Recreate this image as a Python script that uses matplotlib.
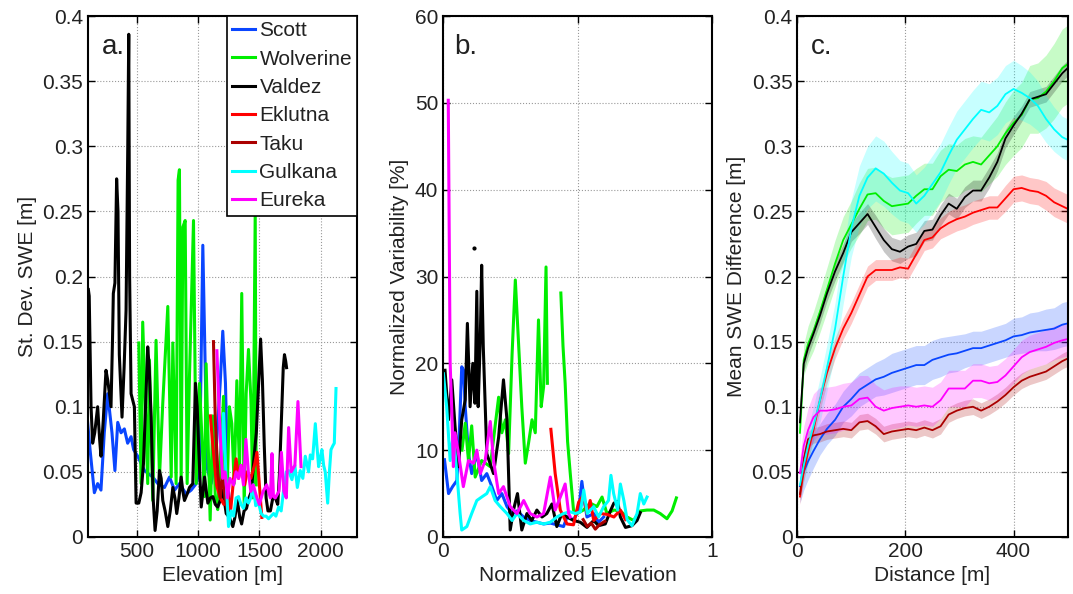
import matplotlib
matplotlib.use('Agg')
import matplotlib.pyplot as plt
import numpy as np
from matplotlib.ticker import FuncFormatter

plt.rcParams['font.family'] = ['Liberation Sans', 'DejaVu Sans']
plt.rcParams['font.size'] = 15

glaciers = ['Scott', 'Wolverine', 'Valdez', 'Eklutna', 'Taku', 'Gulkana', 'Eureka']
colors = ['#0a46ff', '#00ee00', 'black', '#ff0000', '#aa0000', '#00ffff', '#ff00ff']

# --- a. standard deviation of SWE vs elevation ---
scott_elev = [97, 117, 152, 179, 206, 233, 261, 296, 320, 343, 370, 397, 424, 452, 473, 506,
              561, 629, 670, 725, 766, 807, 847, 902, 943, 984, 1011, 1038, 1060, 1071, 1106,
              1147, 1180, 1201, 1223, 1242, 1262]
scott_sd = [0.088, 0.067, 0.034, 0.041, 0.036, 0.08, 0.11, 0.08, 0.051, 0.088, 0.08, 0.083,
            0.072, 0.077, 0.067, 0.062, 0.051, 0.046, 0.041, 0.038, 0.046, 0.036, 0.041, 0.033,
            0.036, 0.041, 0.051, 0.224, 0.118, 0.054, 0.041, 0.067, 0.118, 0.158, 0.118,
            0.041, 0.02]

wolv_elev = [515, 534, 547, 588, 602, 629, 656, 684, 711, 752, 780, 793, 820, 836, 847, 861,
             875, 894, 910, 929, 962, 984, 1011, 1052, 1065, 1098, 1120, 1140, 1160, 1180,
             1201, 1207, 1220, 1234, 1255, 1275, 1294, 1316, 1338, 1356, 1376, 1392, 1411,
             1431, 1447, 1466, 1474]
wolv_sd = [0.149, 0.041, 0.165, 0.041, 0.136, 0.028, 0.151, 0.046, 0.103, 0.177, 0.046, 0.149,
           0.041, 0.274, 0.282, 0.041, 0.238, 0.243, 0.041, 0.123, 0.243, 0.041, 0.118, 0.031,
           0.133, 0.013, 0.093, 0.03, 0.021, 0.06, 0.093, 0.108, 0.04, 0.026, 0.1, 0.087,
           0.041, 0.12, 0.05, 0.187, 0.023, 0.11, 0.144, 0.105, 0.03, 0.25, 0.04]

vald_elev = [103, 110, 125, 138, 155, 179, 195, 206, 225, 247, 262, 288, 300, 307, 320, 334,
             345, 356, 378, 395, 411, 425, 433, 440, 452, 479, 493, 515, 534, 553, 570, 588,
             600, 616, 632, 648, 665, 684, 698, 711, 730, 752, 772, 793, 810, 825, 843, 861,
             875, 888, 910, 929, 956, 978, 992, 1005, 1025, 1052, 1079, 1100, 1120, 1140, 1160,
             1180, 1201, 1229, 1255, 1283, 1300, 1320, 1340, 1355, 1375, 1395, 1415, 1435, 1455,
             1475, 1495, 1510, 1525, 1540, 1555, 1570, 1590, 1610, 1630, 1650, 1665, 1680, 1695,
             1705, 1715, 1722]
vald_sd = [0.19, 0.185, 0.1, 0.072, 0.08, 0.1, 0.075, 0.062, 0.09, 0.128, 0.12, 0.1, 0.15,
           0.187, 0.195, 0.275, 0.25, 0.14, 0.092, 0.13, 0.174, 0.3, 0.386, 0.2, 0.11, 0.1,
           0.026, 0.026, 0.034, 0.056, 0.1, 0.146, 0.13, 0.092, 0.03, 0.005, 0.02, 0.051,
           0.045, 0.028, 0.02, 0.008, 0.02, 0.038, 0.03, 0.018, 0.03, 0.046, 0.035, 0.028,
           0.033, 0.038, 0.041, 0.118, 0.1, 0.067, 0.023, 0.046, 0.026, 0.03, 0.031, 0.025,
           0.023, 0.028, 0.036, 0.018, 0.015, 0.008, 0.015, 0.028, 0.015, 0.01, 0.02, 0.022,
           0.03, 0.035, 0.06, 0.08, 0.12, 0.152, 0.12, 0.07, 0.03, 0.02, 0.02, 0.03, 0.03,
           0.025, 0.05, 0.09, 0.13, 0.14, 0.135, 0.13]

eklu_elev = [1100, 1120, 1150, 1180, 1210, 1240, 1265, 1290, 1310, 1330, 1350, 1380, 1400,
             1430, 1460, 1480, 1500, 1520]
eklu_sd = [0.093, 0.07, 0.04, 0.03, 0.025, 0.035, 0.02, 0.045, 0.06, 0.045, 0.055, 0.04, 0.05,
           0.045, 0.055, 0.065, 0.04, 0.015]

taku_elev = [1125, 1140, 1160, 1180, 1200, 1220, 1240]
taku_sd = [0.15, 0.09, 0.05, 0.03, 0.05, 0.03, 0.02]

gulk_elev = [1190, 1207, 1230, 1248, 1270, 1289, 1310, 1330, 1350, 1370, 1390, 1411, 1430,
             1450, 1470, 1493, 1515, 1534, 1555, 1575, 1595, 1616, 1635, 1657, 1678, 1698,
             1720, 1739, 1766, 1790, 1810, 1834, 1855, 1875, 1902, 1916, 1935, 1957, 1970,
             1984, 2000, 2011, 2025, 2038, 2058, 2072, 2085, 2100, 2112, 2126]
gulk_sd = [0.06, 0.095, 0.04, 0.008, 0.02, 0.016, 0.03, 0.031, 0.025, 0.022, 0.03, 0.026, 0.03,
           0.04, 0.024, 0.026, 0.018, 0.016, 0.016, 0.014, 0.016, 0.018, 0.016, 0.023, 0.02,
           0.036, 0.05, 0.051, 0.044, 0.055, 0.038, 0.051, 0.045, 0.062, 0.05, 0.063, 0.06,
           0.087, 0.07, 0.054, 0.062, 0.067, 0.055, 0.05, 0.026, 0.05, 0.067, 0.07, 0.072, 0.114]

eure_elev = [1153, 1170, 1190, 1200, 1220, 1240, 1260, 1290, 1310, 1330, 1350, 1370, 1390,
             1410, 1430, 1450, 1480, 1500, 1530, 1560, 1590, 1603, 1615, 1630, 1660, 1680,
             1700, 1720, 1739, 1760, 1790, 1815, 1840]
eure_sd = [0.143, 0.1, 0.06, 0.045, 0.05, 0.03, 0.045, 0.04, 0.05, 0.045, 0.055, 0.04, 0.075,
           0.05, 0.035, 0.04, 0.03, 0.025, 0.035, 0.04, 0.03, 0.064, 0.031, 0.03, 0.035, 0.065,
           0.035, 0.03, 0.084, 0.05, 0.055, 0.104, 0.054]

# --- b. normalized variability vs normalized elevation ---
scott_ne = [0.005, 0.02, 0.035, 0.051, 0.06, 0.069, 0.076, 0.082, 0.094, 0.106, 0.125, 0.143,
            0.162, 0.181, 0.199, 0.218, 0.237, 0.256, 0.274, 0.299, 0.323, 0.348, 0.373, 0.398,
            0.422, 0.447, 0.46, 0.484, 0.503, 0.515, 0.524, 0.534, 0.559, 0.577, 0.596]
scott_nv = [8.9, 5.0, 5.8, 6.5, 12.0, 19.6, 19.2, 15.0, 9.6, 7.3, 9.6, 6.5, 7.3, 5.8, 4.2, 5.0,
            3.5, 2.7, 3.0, 2.3, 1.9, 1.7, 1.5, 1.6, 1.4, 1.2, 2.3, 2.0, 3.0, 6.4, 4.2, 2.3, 2.7,
            1.7, 2.3]

wolv_ne = [0.07, 0.082, 0.094, 0.106, 0.119, 0.143, 0.175, 0.193, 0.206, 0.218, 0.231, 0.243,
           0.256, 0.268, 0.28, 0.292, 0.305, 0.317, 0.33, 0.342, 0.354, 0.364, 0.373, 0.382,
           0.387, np.nan, 0.437, 0.445, 0.453, 0.462, 0.472, 0.484, 0.497, 0.521, 0.546, 0.571,
           0.59, 0.608, 0.634, 0.658, 0.683, 0.707, 0.732, 0.757, 0.782, 0.806, 0.831, 0.85,
           0.866]
wolv_nv = [10.0, 13.1, 8.8, 12.8, 6.9, 8.8, 8.1, 12.8, 16.1, 12.0, 13.5, 9.6, 21.1, 29.6, 22.3,
           15.0, 8.5, 10.8, 13.5, 12.0, 25.0, 15.0, 17.3, 31.1, 17.7, np.nan, 28.1, 22.0, 17.7,
           11.0, 7.3, 3.1, 2.7, 3.1, 3.9, 3.5, 4.6, 2.7, 3.1, 3.0, 2.3, 1.9, 3.0, 3.1, 3.1,
           2.7, 2.1, 3.0, 4.5]

vald_ne = [0.007, 0.02, 0.032, 0.044, 0.057, 0.069, 0.082, 0.09, 0.1, 0.11, 0.118, 0.125, 0.13,
           0.138, 0.143, 0.149, 0.162, 0.187, 0.206, 0.224, 0.237, 0.249, 0.261, 0.276, 0.292,
           0.311, 0.329, 0.348, 0.367, 0.385, 0.404, 0.422, 0.441, 0.46, 0.484, 0.509, 0.534,
           0.559, 0.577, 0.602, 0.621, 0.634, 0.648, 0.658, 0.677, 0.701, 0.72, 0.732]
vald_nv = [19.2, 13.5, 18.1, 12.8, 8.1, 13.5, 15.8, 24.6, 15.0, 20.0, 15.4, 28.3, 15.0, 23.0,
           31.3, 21.9, 9.6, 7.3, 11.5, 18.1, 13.5, 0.8, 3.1, 5.0, 0.8, 2.7, 1.9, 3.1, 2.3, 2.7,
           3.8, 1.2, 2.7, 2.3, 1.9, 1.7, 1.1, 1.9, 1.3, 1.5, 3.0, 3.9, 4.1, 2.3, 1.1, 1.3,
           1.9, 2.8]
vald_dot_ne = [0.115]
vald_dot_nv = [33.3]

eklu_ne = [0.4, 0.416, 0.435, 0.46, 0.484, 0.503, 0.521, 0.534, 0.546, 0.559, 0.584, 0.609,
           0.634, 0.658, 0.677]
eklu_nv = [12.4, 7.3, 3.1, 1.5, 1.4, 4.0, 4.8, 2.7, 4.2, 1.9, 2.7, 2.6, 2.3, 3.1, 2.0]

taku_ne = [0.52, 0.535, 0.55, 0.565, 0.58, 0.6]
taku_nv = [2.0, 1.2, 1.6, 0.9, 1.4, 1.8]

gulk_ne = [0.001, 0.013, 0.026, 0.038, 0.051, 0.063, 0.069, 0.088, 0.106, 0.125, 0.143, 0.162,
           0.175, 0.193, 0.212, 0.237, 0.256, 0.274, 0.299, 0.323, 0.348, 0.373, 0.398, 0.422,
           0.447, 0.472, 0.491, 0.51, 0.522, 0.535, 0.559, 0.577, 0.596, 0.614, 0.623, 0.633,
           0.648, 0.658, 0.671, 0.683, 0.701, 0.72, 0.732, 0.745, 0.757]
gulk_nv = [18.8, 15.0, 8.8, 12.0, 7.3, 2.7, 0.8, 1.2, 2.7, 4.2, 4.6, 5.0, 5.8, 4.2, 3.5, 2.7,
           1.9, 2.7, 1.9, 1.5, 1.7, 1.5, 1.7, 2.3, 2.7, 2.9, 2.7, 2.9, 5.4, 2.7, 3.5, 2.3, 3.5,
           4.2, 7.1, 5.0, 3.1, 6.1, 4.2, 2.0, 1.3, 2.7, 5.0, 3.8, 4.6]

eure_ne = [0.019, 0.026, 0.032, 0.038, 0.044, 0.057, 0.075, 0.094, 0.113, 0.125, 0.138, 0.156,
           0.175, 0.187, 0.206, 0.224, 0.249, 0.274, 0.299, 0.323, 0.348, 0.373, 0.398, 0.416,
           0.435, 0.453, 0.466, 0.472]
eure_nv = [50.3, 20.0, 14.6, 8.1, 12.0, 9.6, 5.8, 8.8, 8.5, 10.0, 7.3, 8.8, 13.3, 8.8, 5.0, 5.8,
           3.5, 2.7, 4.2, 2.7, 2.3, 2.7, 6.9, 3.1, 4.6, 6.1, 2.7, 2.3]

# --- c. mean SWE difference vs distance (with spread) ---
dist = [5, 12, 20, 30, 42, 55, 70, 85, 100, 115, 130, 145, 160, 175, 190, 205, 220, 235, 250,
        265, 280, 295, 310, 325, 340, 355, 370, 385, 400, 415, 430, 445, 460, 475, 490, 500]
scott_mean = [0.039, 0.05, 0.058, 0.066, 0.075, 0.083, 0.09, 0.1, 0.106, 0.113, 0.117, 0.121,
              0.123, 0.126, 0.128, 0.13, 0.132, 0.132, 0.136, 0.138, 0.14, 0.141, 0.143, 0.145,
              0.145, 0.147, 0.149, 0.151, 0.154, 0.155, 0.157, 0.158, 0.159, 0.16, 0.163, 0.164]
scott_spr = [0.013, 0.014, 0.014, 0.013, 0.012, 0.012, 0.012, 0.012, 0.013, 0.013, 0.013, 0.013,
             0.014, 0.015, 0.015, 0.015, 0.015, 0.015, 0.015, 0.015, 0.014, 0.014, 0.013, 0.013,
             0.013, 0.013, 0.013, 0.013, 0.014, 0.014, 0.015, 0.015, 0.016, 0.016, 0.017, 0.017]
wolv_mean = [0.08, 0.136, 0.148, 0.158, 0.173, 0.19, 0.21, 0.228, 0.24, 0.252, 0.263, 0.264,
             0.258, 0.254, 0.255, 0.256, 0.262, 0.267, 0.267, 0.277, 0.282, 0.281, 0.286, 0.288,
             0.286, 0.293, 0.3, 0.31, 0.318, 0.324, 0.336, 0.337, 0.342, 0.35, 0.36, 0.363]
wolv_spr = [0.01, 0.012, 0.014, 0.015, 0.016, 0.017, 0.018, 0.018, 0.018, 0.02, 0.02, 0.02,
            0.021, 0.022, 0.022, 0.022, 0.021, 0.02, 0.02, 0.02, 0.02, 0.02, 0.02, 0.02, 0.021,
            0.022, 0.023, 0.024, 0.025, 0.025, 0.026, 0.027, 0.028, 0.029, 0.03, 0.03]
vald_mean = [0.088, 0.133, 0.145, 0.156, 0.17, 0.187, 0.204, 0.218, 0.234, 0.241, 0.248, 0.238,
             0.228, 0.221, 0.219, 0.223, 0.225, 0.235, 0.236, 0.247, 0.256, 0.252, 0.261, 0.266,
             0.266, 0.276, 0.288, 0.306, 0.316, 0.325, 0.336, 0.338, 0.34, 0.348, 0.356, 0.36]
vald_spr = [0.006, 0.006, 0.006, 0.006, 0.006, 0.006, 0.007, 0.007, 0.007, 0.008, 0.008, 0.009,
            0.009, 0.009, 0.009, 0.009, 0.009, 0.008, 0.008, 0.008, 0.008, 0.008, 0.008, 0.008,
            0.008, 0.008, 0.007, 0.007, 0.007, 0.006, 0.006, 0.006, 0.006, 0.006, 0.006, 0.006]
eklu_mean = [0.031, 0.05, 0.065, 0.082, 0.105, 0.126, 0.145, 0.16, 0.172, 0.186, 0.2, 0.205,
             0.205, 0.205, 0.207, 0.206, 0.217, 0.228, 0.23, 0.237, 0.241, 0.244, 0.246, 0.249,
             0.251, 0.253, 0.253, 0.26, 0.267, 0.268, 0.266, 0.265, 0.262, 0.257, 0.254, 0.252]
eklu_spr = [0.006, 0.007, 0.007, 0.007, 0.008, 0.008, 0.008, 0.008, 0.008, 0.008, 0.008, 0.008,
            0.008, 0.008, 0.008, 0.008, 0.008, 0.008, 0.008, 0.008, 0.009, 0.009, 0.009, 0.009,
            0.009, 0.009, 0.009, 0.01, 0.01, 0.01, 0.01, 0.01, 0.011, 0.011, 0.011, 0.011]
taku_mean = [0.033, 0.06, 0.075, 0.078, 0.079, 0.081, 0.082, 0.083, 0.082, 0.088, 0.089, 0.085,
             0.079, 0.081, 0.082, 0.083, 0.082, 0.084, 0.082, 0.085, 0.094, 0.097, 0.099, 0.1,
             0.097, 0.1, 0.104, 0.109, 0.115, 0.12, 0.123, 0.125, 0.127, 0.131, 0.135, 0.137]
taku_spr = [0.005, 0.006, 0.006, 0.006, 0.006, 0.006, 0.006, 0.006, 0.006, 0.006, 0.006, 0.006,
            0.006, 0.006, 0.006, 0.006, 0.006, 0.006, 0.006, 0.006, 0.006, 0.006, 0.006, 0.006,
            0.006, 0.006, 0.006, 0.006, 0.006, 0.006, 0.006, 0.006, 0.006, 0.006, 0.006, 0.006]
gulk_mean = [0.04, 0.055, 0.07, 0.085, 0.105, 0.13, 0.16, 0.2, 0.237, 0.262, 0.276, 0.283, 0.279,
             0.272, 0.266, 0.264, 0.256, 0.262, 0.271, 0.28, 0.293, 0.305, 0.313, 0.321, 0.328,
             0.326, 0.331, 0.34, 0.344, 0.341, 0.337, 0.331, 0.321, 0.313, 0.307, 0.305]
gulk_spr = [0.01, 0.012, 0.014, 0.015, 0.017, 0.018, 0.02, 0.021, 0.022, 0.023, 0.024, 0.025,
            0.025, 0.024, 0.023, 0.023, 0.022, 0.022, 0.022, 0.022, 0.022, 0.022, 0.022, 0.022,
            0.022, 0.022, 0.022, 0.022, 0.022, 0.021, 0.02, 0.019, 0.018, 0.017, 0.016, 0.016]
eure_mean = [0.049, 0.07, 0.082, 0.092, 0.097, 0.097, 0.098, 0.1, 0.101, 0.106, 0.107, 0.1, 0.097,
             0.099, 0.1, 0.101, 0.1, 0.101, 0.1, 0.105, 0.114, 0.114, 0.114, 0.12, 0.12, 0.118,
             0.119, 0.124, 0.131, 0.138, 0.142, 0.144, 0.146, 0.149, 0.151, 0.152]
eure_spr = [0.012, 0.015, 0.017, 0.018, 0.018, 0.018, 0.018, 0.018, 0.018, 0.018, 0.017, 0.017,
            0.016, 0.016, 0.016, 0.015, 0.015, 0.015, 0.015, 0.014, 0.014, 0.014, 0.014, 0.013,
            0.013, 0.013, 0.013, 0.013, 0.013, 0.013, 0.013, 0.013, 0.013, 0.013, 0.013, 0.013]

panel_a = [(scott_elev, scott_sd), (wolv_elev, wolv_sd), (vald_elev, vald_sd),
           (eklu_elev, eklu_sd), (taku_elev, taku_sd), (gulk_elev, gulk_sd),
           (eure_elev, eure_sd)]
panel_b = [(scott_ne, scott_nv), (wolv_ne, wolv_nv), (vald_ne, vald_nv),
           (eklu_ne, eklu_nv), (taku_ne, taku_nv), (gulk_ne, gulk_nv),
           (eure_ne, eure_nv)]
panel_c = [(scott_mean, scott_spr), (wolv_mean, wolv_spr), (vald_mean, vald_spr),
           (eklu_mean, eklu_spr), (taku_mean, taku_spr), (gulk_mean, gulk_spr),
           (eure_mean, eure_spr)]

TXT = '#222222'


def matlab_fmt(v, pos):
    # plain tick numbers: 0, 0.05, 0.1, ...
    return '%g' % round(v, 4)


def style_axes(ax):
    ax.grid(True, linestyle=':', color='#999999', linewidth=0.8)
    ax.set_axisbelow(True)
    ax.tick_params(direction='in', top=True, right=True, length=5, width=1,
                   labelsize=15, colors='black', labelcolor=TXT)
    for s in ax.spines.values():
        s.set_linewidth(1.5)
    ax.yaxis.set_major_formatter(FuncFormatter(matlab_fmt))
    ax.xaxis.set_major_formatter(FuncFormatter(matlab_fmt))


fig = plt.figure(figsize=(10.73, 5.94), dpi=100)
axa = fig.add_axes([0.082, 0.096, 0.251, 0.877])
axb = fig.add_axes([0.413, 0.096, 0.251, 0.877])
axc = fig.add_axes([0.743, 0.096, 0.252, 0.877])

# a.
for (x, y), c, name in zip(panel_a, colors, glaciers):
    axa.plot(x, y, color=c, lw=2.2, label=name)
axa.set_xlim(100, 2300)
axa.set_ylim(0, 0.4)
axa.set_xticks([500, 1000, 1500, 2000])
axa.set_yticks(np.arange(0, 0.41, 0.05))
axa.set_xlabel('Elevation [m]', color=TXT)
axa.set_ylabel('St. Dev. SWE [m]', color=TXT)
style_axes(axa)
axa.text(0.05, 0.965, 'a.', transform=axa.transAxes, fontsize=20, va='top', color=TXT)
leg = axa.legend(loc='upper right', fontsize=15, handlelength=1.1, handletextpad=0.2,
                 borderpad=0.25, labelspacing=0.45, borderaxespad=0, fancybox=False,
                 framealpha=1, edgecolor='black')
leg.get_frame().set_linewidth(1.2)
for t in leg.get_texts():
    t.set_color(TXT)

# b.
for (x, y), c in zip(panel_b, colors):
    axb.plot(x, y, color=c, lw=2.2)
axb.plot(vald_dot_ne, vald_dot_nv, 'o', color='black', ms=2)
axb.set_xlim(0, 1)
axb.set_ylim(0, 60)
axb.set_xticks([0, 0.5, 1])
axb.set_yticks(np.arange(0, 61, 10))
axb.set_xlabel('Normalized Elevation', color=TXT)
axb.set_ylabel('Normalized Variability [%]', color=TXT)
style_axes(axb)
axb.text(0.04, 0.965, 'b.', transform=axb.transAxes, fontsize=20, va='top', color=TXT)

# c.
d = np.array(dist)
for (m, s), c in zip(panel_c, colors):
    m = np.array(m)
    s = np.array(s)
    axc.fill_between(d, m - s, m + s, color=c, alpha=0.22, lw=0)
for (m, s), c in zip(panel_c, colors):
    axc.plot(d, m, color=c, lw=1.3)
axc.set_xlim(0, 500)
axc.set_ylim(0, 0.4)
axc.set_xticks([0, 200, 400])
axc.set_yticks(np.arange(0, 0.41, 0.05))
axc.set_xlabel('Distance [m]', color=TXT)
axc.set_ylabel('Mean SWE Difference [m]', color=TXT)
style_axes(axc)
axc.text(0.05, 0.965, 'c.', transform=axc.transAxes, fontsize=20, va='top', color=TXT)

fig.savefig('out.png', dpi=100)
